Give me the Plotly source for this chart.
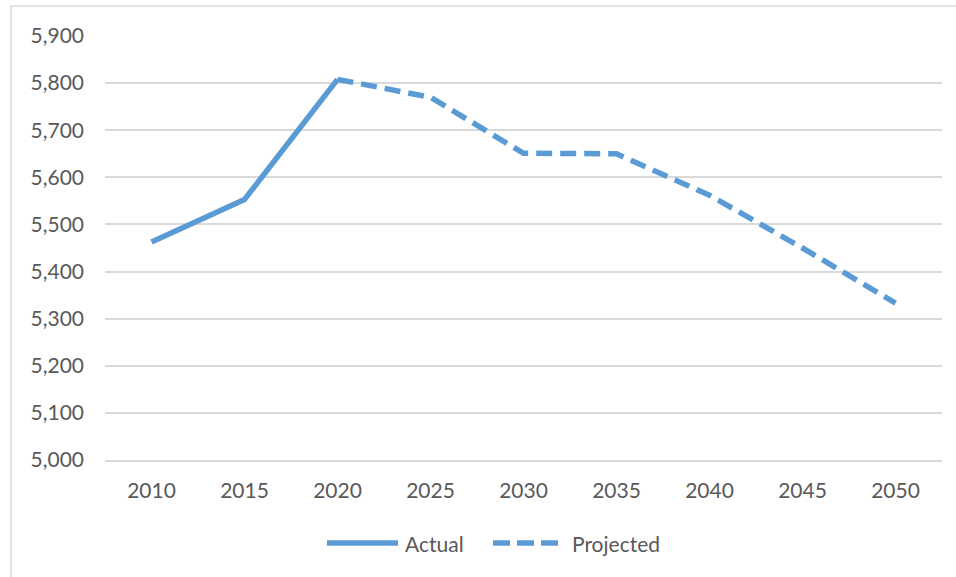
import plotly.graph_objects as go

# Population series (thousands), actual history and projection
years = ["2010", "2015", "2020", "2025", "2030", "2035", "2040", "2045", "2050"]
actual_years = ["2010", "2015", "2020"]
actual_values = [5463, 5553, 5808]
projected_years = ["2020", "2025", "2030", "2035", "2040", "2045", "2050"]
projected_values = [5808, 5770, 5651, 5650, 5562, 5450, 5333]
y_ticks = [5000, 5100, 5200, 5300, 5400, 5500, 5600, 5700, 5800, 5900]

W, H = 956, 577
L, R, T, B = 105, 14, 36, 117
BLUE = "#5B9BD5"
GRID = "#d9d9d9"
TEXT = "#595959"
FONT = "Lato"
FS = 21


def xp(px):
    return (px - L) / (W - L - R)


def yp(py):
    return (H - B - py) / (H - B - T)


fig = go.Figure()
fig.add_trace(go.Scatter(
    x=actual_years, y=actual_values, mode="lines", name="Actual",
    line=dict(color=BLUE, width=5.5), showlegend=False,
))
fig.add_trace(go.Scatter(
    x=projected_years, y=projected_values, mode="lines", name="Projected",
    line=dict(color=BLUE, width=5.5, dash="16px,8px"), showlegend=False,
))

shapes = [
    # outer chart border
    dict(type="rect", xref="paper", yref="paper",
         x0=xp(11), x1=xp(W + 20), y0=yp(6), y1=yp(H + 20),
         line=dict(color=GRID, width=1.5), fillcolor="rgba(0,0,0,0)", layer="below"),
    # legend symbols
    dict(type="line", xref="paper", yref="paper",
         x0=xp(327), x1=xp(398), y0=yp(543), y1=yp(543),
         line=dict(color=BLUE, width=5.5)),
    dict(type="line", xref="paper", yref="paper",
         x0=xp(493), x1=xp(560), y0=yp(543), y1=yp(543),
         line=dict(color=BLUE, width=5.5, dash="17px,7px")),
]

annotations = [
    dict(text="Actual", xref="paper", yref="paper", x=xp(403), y=yp(543),
         xanchor="left", yanchor="middle", showarrow=False,
         font=dict(family=FONT, size=FS, color=TEXT)),
    dict(text="Projected", xref="paper", yref="paper", x=xp(570), y=yp(543),
         xanchor="left", yanchor="middle", showarrow=False,
         font=dict(family=FONT, size=FS, color=TEXT)),
]

fig.update_layout(
    width=W, height=H,
    margin=dict(l=L, r=R, t=T, b=B, pad=0),
    paper_bgcolor="white", plot_bgcolor="white",
    font=dict(family=FONT, size=FS, color=TEXT),
    shapes=shapes, annotations=annotations,
    showlegend=False,
)
fig.update_xaxes(
    type="category", categoryorder="array", categoryarray=years,
    range=[-0.5, len(years) - 0.5],
    showgrid=False, zeroline=False, showline=True, linecolor=GRID, linewidth=1.5,
    ticks="", ticklabelstandoff=11,
    tickfont=dict(family=FONT, size=FS, color=TEXT),
)
fig.update_yaxes(
    range=[5000, 5900], tickvals=y_ticks, tickformat=",d",
    showgrid=True, gridcolor=GRID, gridwidth=1.5, zeroline=False, showline=False,
    ticks="", ticklabelstandoff=20,
    tickfont=dict(family=FONT, size=FS, color=TEXT),
)

fig.write_html("out.html")
